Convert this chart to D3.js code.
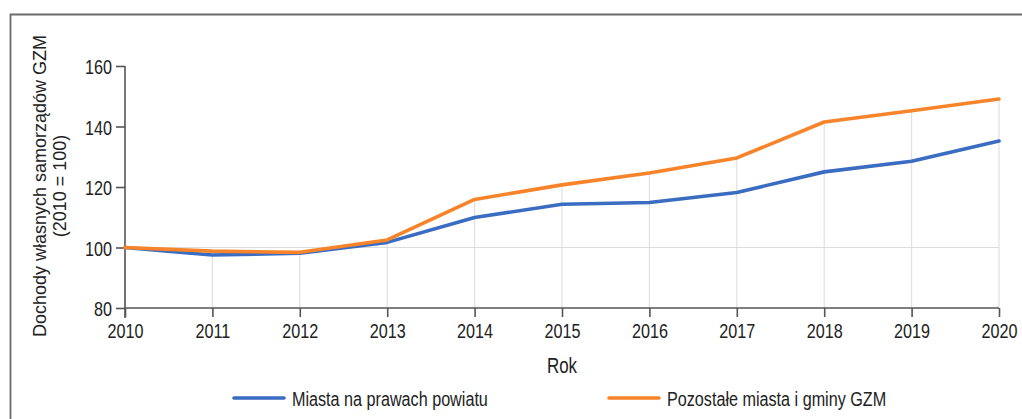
<!DOCTYPE html>
<html><head><meta charset="utf-8">
<script src="https://cdn.jsdelivr.net/npm/d3@7"></script>
<style>body{margin:0;background:#fff}svg{display:block}text{font-family:"Liberation Sans",Arial,sans-serif;fill:#222}</style>
</head><body>
<svg id="c" width="1022" height="419"></svg>
<script>
const years = [2010,2011,2012,2013,2014,2015,2016,2017,2018,2019,2020];
const miasta = [100,97.5,98.1,101.7,109.9,114.3,114.9,118.2,125.0,128.5,135.2];
const pozostale = [100,98.8,98.4,102.5,115.9,120.7,124.6,129.6,141.5,145.2,149.1];
const yTicks = [80,100,120,140,160];
const seriesNames = ["Miasta na prawach powiatu","Pozostałe miasta i gminy GZM"];
const colors = ["#3a6cc2","#f7842a"];
const yTitle = ["Dochody własnych samorządów GZM","(2010 = 100)"];
const xTitle = "Rok";

const SQ = 0.77; // horizontal squeeze of the source image's horizontal text
function squeeze(sel){
  sel.each(function(){
    const X = +(this.getAttribute("x") || 0);
    d3.select(this).attr("transform", `translate(${X},0) scale(${SQ},1) translate(${-X},0)`);
  });
}

const svg = d3.select("#c");
svg.append("path").attr("d","M10.5,419 V14.5 H1022").attr("fill","none").attr("stroke","#6a6a6a").attr("stroke-width",1.8);

const x = d3.scaleLinear().domain([2010,2020]).range([125,999]);
const y = d3.scaleLinear().domain([80,160]).range([308,66]);

svg.append("g").selectAll("line").data(years).join("line")
  .attr("x1",d=>x(d)).attr("x2",d=>x(d))
  .attr("y1",y(80)).attr("y2",(d,i)=>y(Math.max(miasta[i],pozostale[i])))
  .attr("stroke","#e0e0e0").attr("stroke-width",1.2);
svg.append("line").attr("x1",x(2010)).attr("x2",x(2020)).attr("y1",y(100)).attr("y2",y(100))
  .attr("stroke","#dcdcdc").attr("stroke-width",1.2);

const yAxis = svg.append("g").attr("transform",`translate(${x(2010)},0)`)
  .call(d3.axisLeft(y).tickValues(yTicks).tickSize(9).tickPadding(4).tickFormat(d3.format("d")));
yAxis.select(".domain").attr("d",`M0,${y(160)}V318`);
const xAxis = svg.append("g").attr("transform",`translate(0,${y(80)})`)
  .call(d3.axisBottom(x).tickValues(years).tickSize(9).tickFormat(d3.format("d")));
xAxis.select(".domain").attr("d",`M${x(2010)},0H${x(2020)}`);
[yAxis,xAxis].forEach(g=>{
  g.select(".domain").attr("stroke","#555").attr("stroke-width",1.6);
  g.selectAll(".tick line").attr("stroke","#555").attr("stroke-width",1.6);
  g.selectAll(".tick text").style("font-family","'Liberation Sans',Arial,sans-serif").style("font-size","21px").attr("fill","#222");
});
xAxis.selectAll(".tick text").attr("y",30).attr("dy",0);
yAxis.selectAll(".tick text").attr("dy","0.37em");
squeeze(xAxis.selectAll(".tick text"));
squeeze(yAxis.selectAll(".tick text"));

const line = d3.line().x((d,i)=>x(years[i])).y(d=>y(d));
[miasta,pozostale].forEach((s,k)=>{
  svg.append("path").datum(s).attr("d",line).attr("fill","none")
    .attr("stroke",colors[k]).attr("stroke-width",3.6).attr("stroke-linejoin","round").attr("stroke-linecap","round");
});

const yt = svg.append("text").attr("transform","translate(0,186) rotate(-90)").attr("text-anchor","middle").style("font-size","18px");
yt.append("tspan").attr("x",0).attr("y",46).text(yTitle[0]);
yt.append("tspan").attr("x",0).attr("y",66).text(yTitle[1]);

svg.append("text").attr("x",x(2015)).attr("y",373).attr("text-anchor","middle").style("font-size","22px").text(xTitle).call(squeeze);

const legX = [234,609];
seriesNames.forEach((n,k)=>{
  svg.append("line").attr("x1",legX[k]).attr("x2",legX[k]+50).attr("y1",398).attr("y2",398)
    .attr("stroke",colors[k]).attr("stroke-width",3.6).attr("stroke-linecap","round");
  svg.append("text").attr("x",legX[k]+58).attr("y",406).style("font-size","21px").text(n).call(squeeze);
});
</script>
</body></html>
